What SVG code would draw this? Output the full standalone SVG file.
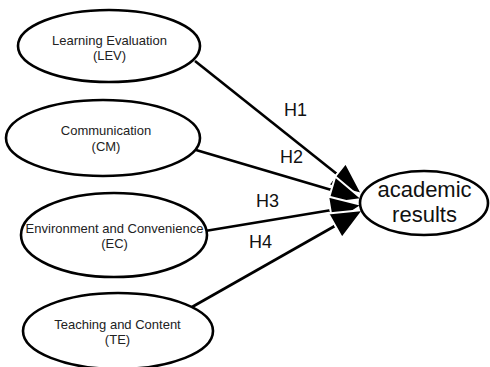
<svg xmlns="http://www.w3.org/2000/svg" width="490" height="367" viewBox="0 0 490 367">
  <style>
    .node ellipse { fill: #ffffff; stroke: #000000; stroke-width: 2.6; }
    .lbl { font-family: "Liberation Sans", Arial, sans-serif; font-size: 13px; fill: #222222; text-anchor: middle; }
    .big { font-family: "Liberation Sans", Arial, sans-serif; font-size: 22px; fill: #111111; text-anchor: middle; }
    .hyp { font-family: "Liberation Sans", Arial, sans-serif; font-size: 18px; fill: #111111; text-anchor: middle; }
    .edge { fill: none; stroke: #000000; stroke-width: 2.6; }
  </style>
  <defs>
    <!-- filled arrowhead with a thin white rim so overlapping heads stay distinct -->
    <marker id="head" markerUnits="userSpaceOnUse" markerWidth="36" markerHeight="32" viewBox="0 0 36 32" refX="33" refY="16" orient="auto">
      <path d="M1,2 L33,16 L1,30 Z" fill="#000000" stroke="#ffffff" stroke-width="2" stroke-linejoin="miter"/>
    </marker>
  </defs>
  <rect width="490" height="367" fill="#ffffff"/>

  <g id="connectors">
    <line class="edge" x1="195" y1="61" x2="362" y2="194" marker-end="url(#head)"/>
    <line class="edge" x1="196" y1="150" x2="362" y2="199" marker-end="url(#head)"/>
    <line class="edge" x1="205" y1="231" x2="362" y2="205" marker-end="url(#head)"/>
    <line class="edge" x1="192" y1="307" x2="363" y2="210" marker-end="url(#head)"/>
    <text class="hyp" x="295.5" y="116">H1</text>
    <text class="hyp" x="291.5" y="163">H2</text>
    <text class="hyp" x="267.5" y="207">H3</text>
    <text class="hyp" x="260.5" y="248">H4</text>
  </g>

  <g id="node-lev" class="node">
    <ellipse cx="109" cy="46" rx="91" ry="36"/>
    <text class="lbl" x="109.5" y="45">Learning Evaluation</text>
    <text class="lbl" x="109.5" y="60">(LEV)</text>
  </g>
  <g id="node-cm" class="node">
    <ellipse cx="103" cy="138" rx="97" ry="38"/>
    <text class="lbl" x="106" y="135">Communication</text>
    <text class="lbl" x="106" y="151">(CM)</text>
  </g>
  <g id="node-ec" class="node">
    <ellipse cx="114" cy="235" rx="93" ry="42"/>
    <text class="lbl" x="114.5" y="233">Environment and Convenience</text>
    <text class="lbl" x="114.5" y="248">(EC)</text>
  </g>
  <g id="node-te" class="node">
    <ellipse cx="118" cy="331" rx="95" ry="38"/>
    <text class="lbl" x="117.5" y="329">Teaching and Content</text>
    <text class="lbl" x="117.5" y="344">(TE)</text>
  </g>
  <g id="node-ar" class="node">
    <ellipse cx="424" cy="203" rx="64" ry="32"/>
    <text class="big" x="424.5" y="197">academic</text>
    <text class="big" x="424.5" y="222">results</text>
  </g>
</svg>
